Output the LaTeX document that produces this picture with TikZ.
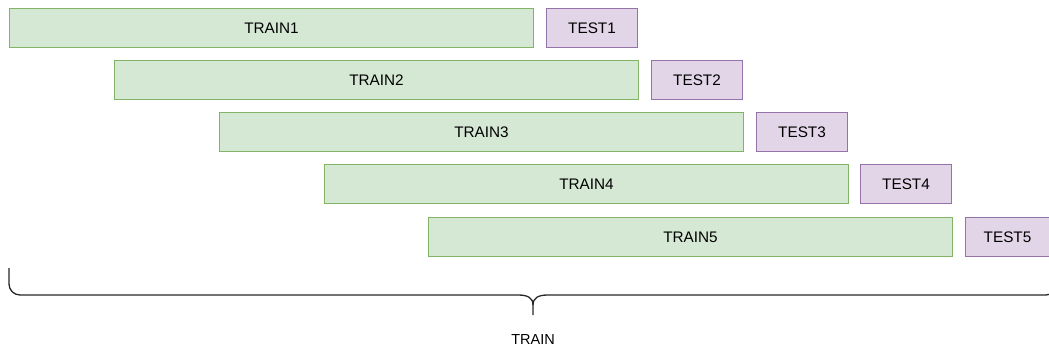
\documentclass[tikz,border=0pt]{standalone}
\usepackage{fontspec}
\setmainfont{Liberation Sans}
\definecolor{trainfill}{HTML}{D5E8D4}
\definecolor{trainline}{HTML}{82B366}
\definecolor{testfill}{HTML}{E1D5E7}
\definecolor{testline}{HTML}{9673A6}
\tikzset{
  box/.style={rectangle, anchor=north west, minimum height=39pt, inner sep=0pt, line width=1pt, font=\fontsize{15.3pt}{17pt}\selectfont},
  trainbox/.style={box, fill=trainfill, draw=trainline, minimum width=524pt},
  testbox/.style={box, fill=testfill, draw=testline, minimum width=91pt},
  bracestyle/.style={draw=black!85, line width=1.3pt},
}
\begin{document}
\begin{tikzpicture}[x=1pt,y=-1pt]
\useasboundingbox (0,0) rectangle (1049,351);
\node[trainbox] (train1) at (9,8) {TRAIN1};
\node[testbox] (test1) at (546,8) {TEST1};
\node[trainbox] (train2) at (114,60) {TRAIN2};
\node[testbox] (test2) at (651,60) {TEST2};
\node[trainbox] (train3) at (219,112) {TRAIN3};
\node[testbox] (test3) at (756,112) {TEST3};
\node[trainbox] (train4) at (324,164) {TRAIN4};
\node[testbox] (test4) at (860,164) {TEST4};
\node[trainbox] (train5) at (428,217) {TRAIN5};
\node[testbox, minimum width=92pt] (test5) at (965,217) {\hspace*{-8pt}TEST5};
\coordinate (bl) at (9,268);
\coordinate (br) at (1057,268);
\coordinate (tip) at (533,315);
\draw[bracestyle, line join=round]
  (bl) -- (9,284) arc[start angle=180, end angle=90, radius=11] -- (518,295)
  .. controls (528,295) and (533,298) .. (533,305) -- (tip);
\draw[bracestyle, line join=round]
  (br) -- (1057,284) arc[start angle=0, end angle=90, radius=11] -- (548,295)
  .. controls (538,295) and (533,298) .. (533,305);
\node[font=\fontsize{14.5pt}{16pt}\selectfont] (trainlabel) at (533,340) {TRAIN};
\end{tikzpicture}
\end{document}
